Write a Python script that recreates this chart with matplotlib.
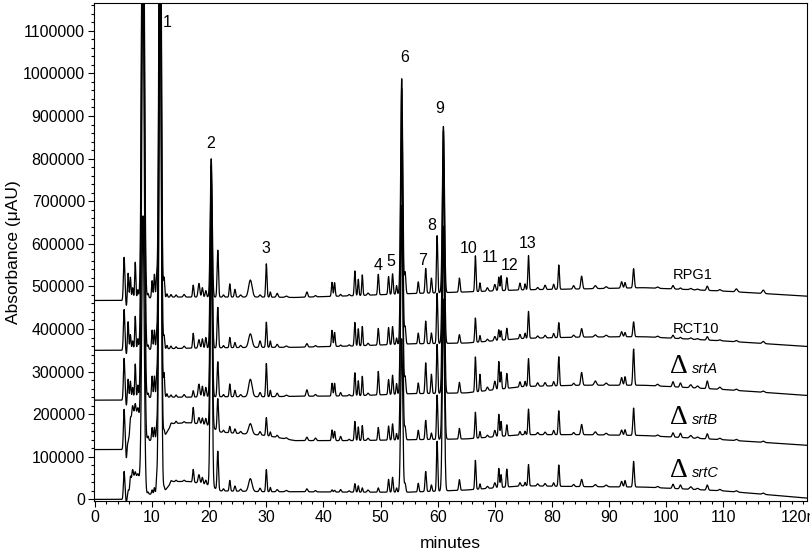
import numpy as np
import matplotlib
matplotlib.use("Agg")
from matplotlib import pyplot as plt
from matplotlib.ticker import MultipleLocator

plt.rcParams['font.family'] = ['Liberation Sans', 'DejaVu Sans']

# trace names, bottom to top
names = ["srtC", "srtB", "srtA", "RCT10", "RPG1"]

# baseline (minutes, uAU) for each trace
base_t = [0, 4.8, 5.8, 6.5, 7.6, 8.2, 9, 11.8, 13.5, 16.5, 19.5, 22, 30, 35, 45, 55,
          65, 75, 85, 96, 110, 124.7]
base_rpg1 = [467000, 467000, 471000, 472000, 472000, 473000, 473000, 474000, 475000, 475000,
             475000, 475000, 475000, 474000, 478000, 483000, 487000, 492000, 494000, 497000,
             489000, 477000]
base_rct10 = [350000, 350000, 352000, 352000, 352000, 352000, 352000, 353000, 354000, 355000,
              355000, 356000, 357000, 357000, 360000, 365000, 367000, 378000, 381000, 382000,
              372000, 359000]
base_srta = [233000, 233000, 237000, 238000, 238000, 239000, 239000, 240000, 240000, 240000,
             241000, 241000, 241000, 242000, 243000, 248000, 250000, 265000, 268000, 268000,
             258000, 244000]
base_srtb = [117000, 117000, 125000, 205000, 205000, 150000, 138000, 140000, 178000, 180000,
             175000, 158000, 150000, 138000, 138000, 140000, 142000, 152000, 152000, 150000,
             140000, 127000]
base_srtc = [0, 0, 5000, 55000, 55000, 30000, 12000, 13000, 42000, 42000, 35000, 20000,
             18000, 18000, 17000, 17000, 22000, 32000, 30000, 29000, 20000, 3000]

# peak table: retention time (min), width (min)
rt = [5.1, 5.5, 5.8, 6.2, 6.6, 7.05, 7.5, 8.4, 9.3, 10.0, 10.4, 10.8, 11.4, 12.1, 12.6,
      13.3, 14.2, 15.6, 17.2, 18.2, 18.8, 19.4, 20.35, 21.5, 22.5, 23.6, 24.5, 25.5, 27.2,
      28.9, 30.0, 30.7, 31.9, 33.5, 37.1, 38.6, 41.5, 41.95, 43.0, 44.5, 45.5, 46.1, 46.8,
      47.8, 49.6, 51.4, 52.1, 52.8, 53.7, 54.3, 56.6, 57.9, 58.9, 59.9, 61.0, 63.8, 66.6,
      67.4, 68.7, 70.0, 70.7, 71.1, 72.1, 74.4, 75.3, 75.9, 77.5, 78.8, 80.3, 81.2, 83.8,
      85.2, 87.6, 89.5, 92.2, 92.8, 94.3, 98.5, 101.2, 102.5, 104.3, 105.5, 107.2, 109.4,
      112.3, 117.0]
wd = [0.12, 0.08, 0.1, 0.1, 0.1, 0.1, 0.1, 0.22, 0.1, 0.1, 0.1, 0.1, 0.2, 0.1, 0.1,
      0.12, 0.12, 0.15, 0.11, 0.15, 0.12, 0.12, 0.17, 0.12, 0.12, 0.11, 0.12, 0.15, 0.3,
      0.15, 0.11, 0.1, 0.15, 0.2, 0.15, 0.15, 0.11, 0.11, 0.12, 0.15, 0.11, 0.1, 0.1,
      0.15, 0.11, 0.11, 0.11, 0.1, 0.18, 0.12, 0.11, 0.12, 0.11, 0.11, 0.18, 0.12, 0.11,
      0.1, 0.15, 0.15, 0.11, 0.1, 0.11, 0.12, 0.1, 0.11, 0.15, 0.15, 0.12, 0.11, 0.15,
      0.15, 0.2, 0.2, 0.15, 0.12, 0.13, 0.2, 0.15, 0.15, 0.2, 0.2, 0.15, 0.2, 0.2, 0.2]

# peak heights above baseline (uAU) per trace
h_rpg1 = [100000, -15000, 60000, 50000, 25000, 85000, 20000, 1300000, 10000, 40000, 55000,
          45000, 1250000, 45000, 8000, 6000, 5000, 6000, 28000, 32000, 22000, 15000, 325000,
          110000, 5000, 31000, 18000, 5000, 40000, 5000, 78000, 12000, 9000, 3000, 12000, 3000,
          33000, 32000, 4000, 3000, 58000, 38000, 48000, 5000, 48000, 42000, 48000, 20000,
          505000, 50000, 27000, 58000, 35000, 134000, 390000, 33000, 84000, 20000, 8000,
          15000, 32000, 35000, 30000, 16000, 14000, 80000, 5000, 10000, 12000, 57000, 8000,
          30000, 7000, 4000, 15000, 13000, 45000, 3000, 8000, 3000, 3000, 2000, 10000, 3000,
          7000, 8000]
h_rct10 = [95000, -10000, 65000, 35000, 20000, 78000, 25000, 1400000, 10000, 45000, 45000,
           30000, 1300000, 30000, 8000, 6000, 4000, 5000, 35000, 20000, 22000, 25000, 430000,
           95000, 5000, 24000, 12000, 5000, 32000, 15000, 59000, 15000, 7000, 3000, 8000, 3000,
           38000, 33000, 3000, 3000, 55000, 40000, 45000, 5000, 39000, 40000, 42000, 15000,
           600000, 40000, 25000, 53000, 25000, 118000, 500000, 20000, 57000, 15000, 5000,
           10000, 25000, 22000, 27000, 10000, 12000, 63000, 5000, 6000, 10000, 35000, 5000,
           20000, 5000, 4000, 12000, 10000, 35000, 3000, 7000, 3000, 3000, 2000, 8000, 2000,
           3000, 5000]
h_srta = [97000, -15000, 45000, 40000, 25000, 80000, 30000, 1400000, 10000, 50000, 50000,
          45000, 1300000, 55000, 8000, 5000, 5000, 6000, 15000, 30000, 25000, 22000, 520000,
          82000, 5000, 30000, 15000, 5000, 41000, 10000, 78000, 15000, 8000, 3000, 15000, 4000,
          30000, 30000, 8000, 3000, 54000, 35000, 45000, 5000, 55000, 35000, 45000, 25000,
          600000, 40000, 25000, 72000, 45000, 115000, 550000, 25000, 82000, 40000, 8000,
          20000, 65000, 40000, 35000, 12000, 12000, 65000, 8000, 8000, 10000, 68000, 5000,
          30000, 10000, 5000, 18000, 20000, 85000, 4000, 12000, 10000, 7000, 5000, 18000, 5000,
          3000, 3000]
h_srtb = [92000, -25000, 10000, 20000, 15000, 20000, 10000, 1100000, 10000, 30000, 30000,
          25000, 1200000, 15000, 0, 5000, 5000, 3000, 37000, 15000, 15000, 15000, 550000,
          75000, 5000, 15000, 10000, 5000, 25000, 8000, 42000, 10000, 5000, 3000, 8000, 6000,
          25000, 22000, 10000, 3000, 45000, 32000, 35000, 5000, 30000, 33000, 38000, 15000,
          550000, 30000, 22000, 45000, 15000, 104000, 500000, 25000, 61000, 15000, 5000,
          15000, 52000, 35000, 26000, 8000, 8000, 60000, 5000, 6000, 10000, 56000, 5000,
          24000, 7000, 4000, 12000, 13000, 64000, 3000, 10000, 10000, 6000, 3000, 12000, 3000,
          3000, 3000]
h_srtc = [64000, -10000, 15000, 20000, 15000, 10000, 5000, 640000, 5000, 10000, 15000,
          30000, 1300000, 10000, 0, 5000, 3000, 3000, 30000, 20000, 15000, 10000, 600000,
          90000, 5000, 25000, 12000, 5000, 30000, 8000, 52000, 10000, 5000, 3000, 7000, 3000,
          5000, 4000, 6000, 3000, 20000, 15000, 10000, 5000, 10000, 30000, 35000, 10000,
          360000, 20000, 20000, 47000, 15000, 117000, 450000, 25000, 68000, 12000, 5000,
          12000, 45000, 30000, 42000, 8000, 8000, 50000, 5000, 6000, 8000, 50000, 5000,
          17000, 5000, 4000, 13000, 15000, 60000, 3000, 10000, 9000, 6000, 3000, 12000, 3000,
          3000, 3000]

# peak numbers: label, time, height
lab_txt = ["1", "2", "3", "4", "5", "6", "7", "8", "9", "10", "11", "12", "13"]
lab_t = [12.6, 20.3, 29.9, 49.6, 51.8, 54.3, 57.4, 58.9, 60.4, 65.5, 69.1, 72.5, 75.8]
lab_y = [1120000, 835000, 588000, 548000, 559000, 1038000, 561000, 643000, 918000, 590000,
         568000, 549000, 600000]


def trace(base, heights):
    t = np.arange(0, 124.7, 0.02)
    y = np.interp(t, base_t, base)
    for c, s, h in zip(rt, wd, heights):
        y = y + h * np.exp(-0.5 * ((t - c) / s) ** 2)
    return t, y


fig = plt.figure(figsize=(8.1, 5.56), dpi=100)
ax = fig.add_axes([0.116, 0.0995, 0.8806, 0.8957])

for base, hts in [(base_srtc, h_srtc), (base_srtb, h_srtb), (base_srta, h_srta),
                  (base_rct10, h_rct10), (base_rpg1, h_rpg1)]:
    t, y = trace(base, hts)
    ax.plot(t, y, color="black", linewidth=0.9)

for s, x, y in zip(lab_txt, lab_t, lab_y):
    ax.text(x, y, s, fontsize=11.5, ha="center", va="center")

# trace names on the right
ax.text(101.2, 518000, "RPG1", fontsize=10.5, ha="left", va="baseline")
ax.text(101.2, 390000, "RCT10", fontsize=10.5, ha="left", va="baseline")
for nm, yv in [("srtA", 296000), ("srtB", 178000), ("srtC", 53000)]:
    ax.text(100.6, yv, "\u0394", fontsize=20, ha="left", va="baseline",
            family=["Liberation Serif", "DejaVu Serif"])
    ax.text(104.6, yv, nm, fontsize=10.5, style="italic", ha="left", va="baseline")

ax.set_xlim(-0.18, 124.7)
ax.set_ylim(-3000, 1166000)
ax.xaxis.set_major_locator(MultipleLocator(10))
ax.xaxis.set_minor_locator(MultipleLocator(2))
ax.yaxis.set_major_locator(MultipleLocator(100000))
ax.yaxis.set_minor_locator(MultipleLocator(20000))
xt = np.arange(0, 121, 10)
ax.set_xticks(xt)
ax.set_xticklabels([str(v) for v in xt[:-1]] + ["120m"])
ax.get_xticklabels()[-1].set_ha("left")
yt = np.arange(0, 1100001, 100000)
ax.set_yticks(yt)
ax.set_yticklabels([str(v) for v in yt])
ax.tick_params(axis="both", which="major", length=4.5, width=0.8, labelsize=11.5, pad=2)
ax.tick_params(axis="both", which="minor", length=2.5, width=0.8)
for sp in ax.spines.values():
    sp.set_linewidth(0.8)

ax.set_xlabel("minutes", fontsize=12.5, labelpad=8)
ax.set_ylabel("Absorbance (\u03bcAU)", fontsize=12.5, labelpad=1)

fig.savefig("out.png", dpi=100)
